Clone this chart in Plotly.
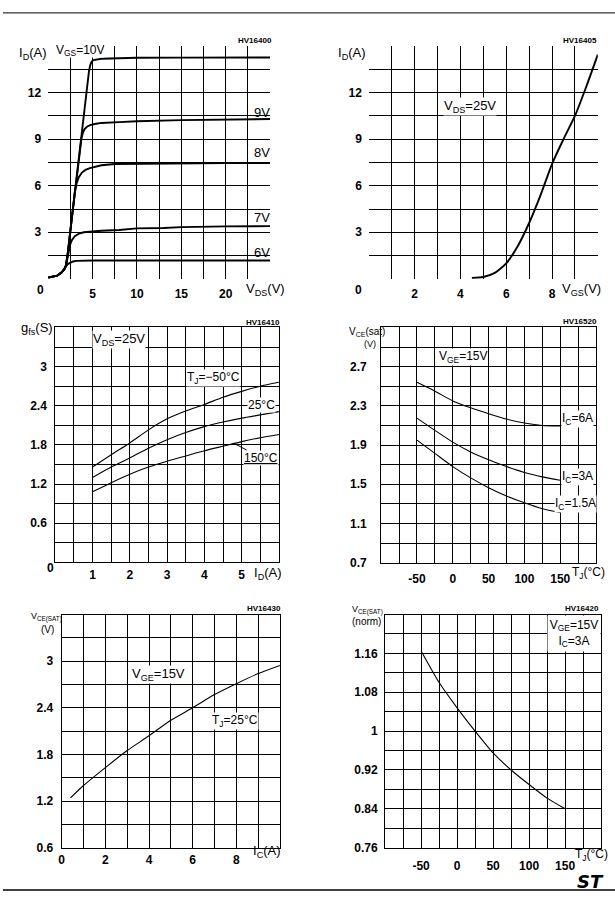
import numpy as np
import plotly.graph_objects as go

W, H = 615, 908

# ---------------- data ----------------
# Panel 1: output characteristics ID vs VDS
vds_10 = [0, 0.5, 1.0, 1.5, 1.8, 2.0, 2.2, 2.5, 3.0, 3.5, 4.0, 4.4, 4.6, 4.75, 4.9, 5.1, 5.5, 6.0, 8, 10, 15, 20, 25]
id_10 = [0.08, 0.12, 0.2, 0.4, 0.6, 0.85, 1.6, 3.1, 5.6, 8.1, 10.6, 12.6, 13.4, 13.8, 14.0, 14.1, 14.16, 14.19, 14.22, 14.25, 14.26, 14.27, 14.27]
vds_9 = [0, 0.5, 1.0, 1.5, 1.8, 2.0, 2.2, 2.5, 3.0, 3.4, 3.6, 3.75, 3.9, 4.1, 4.4, 4.8, 5.4, 6, 8, 10, 15, 20, 25]
id_9 = [0.08, 0.12, 0.2, 0.4, 0.6, 0.85, 1.6, 3.1, 5.6, 7.6, 8.5, 9.05, 9.4, 9.65, 9.82, 9.93, 10.0, 10.05, 10.1, 10.16, 10.23, 10.27, 10.3]
vds_8 = [0, 0.5, 1, 1.5, 1.8, 2.0, 2.2, 2.5, 2.7, 2.85, 3.0, 3.2, 3.45, 3.8, 4.2, 4.7, 5.3, 6, 7.5, 10, 15, 20, 25]
id_8 = [0.08, 0.12, 0.2, 0.4, 0.6, 0.85, 1.6, 3.1, 4.1, 4.95, 5.6, 6.15, 6.55, 6.85, 7.02, 7.14, 7.24, 7.32, 7.4, 7.42, 7.44, 7.46, 7.47]
vds_7 = [0, 0.5, 1, 1.5, 1.8, 2.0, 2.2, 2.35, 2.5, 2.7, 3.0, 3.5, 4, 5, 6, 8, 10, 13, 15, 20, 25]
id_7 = [0.08, 0.12, 0.2, 0.4, 0.6, 0.85, 1.5, 1.95, 2.25, 2.52, 2.75, 2.92, 3.0, 3.05, 3.1, 3.15, 3.25, 3.28, 3.33, 3.38, 3.4]
vds_6 = [0, 0.5, 1, 1.5, 1.8, 2.0, 2.2, 2.5, 2.8, 3.2, 3.6, 5, 10, 15, 20, 25]
id_6 = [0.08, 0.12, 0.2, 0.4, 0.6, 0.8, 0.95, 1.06, 1.12, 1.16, 1.17, 1.18, 1.18, 1.18, 1.18, 1.18]
p1_curve_labels = ["9V", "8V", "7V", "6V"]

# Panel 2: transfer characteristics
vgs_2 = [4.5, 5.0, 5.5, 6.0, 6.5, 7.0, 7.5, 8.0, 8.5, 9.0, 9.5, 10.0]
id_2 = [0.05, 0.12, 0.38, 1.0, 2.1, 3.6, 5.4, 7.4, 9.0, 10.5, 12.4, 14.45]

# Panel 3: transconductance
id_3 = [1, 1.5, 2, 2.5, 3, 3.5, 4, 4.5, 5, 5.5, 6]
gfs_m50 = [1.46, 1.65, 1.83, 2.03, 2.2, 2.32, 2.42, 2.53, 2.62, 2.7, 2.76]
gfs_25 = [1.30, 1.46, 1.60, 1.75, 1.88, 1.99, 2.08, 2.15, 2.21, 2.26, 2.31]
gfs_150 = [1.08, 1.22, 1.35, 1.46, 1.55, 1.63, 1.71, 1.78, 1.85, 1.91, 1.96]

# Panel 4: VCE(sat) vs Tj
tj_4 = [-50, -25, 0, 25, 50, 75, 100, 125, 150]
vce_6a = [2.54, 2.45, 2.35, 2.28, 2.22, 2.165, 2.125, 2.10, 2.095]
vce_3a = [2.175, 2.05, 1.93, 1.83, 1.75, 1.68, 1.62, 1.575, 1.54]
vce_15a = [1.95, 1.815, 1.68, 1.565, 1.465, 1.38, 1.31, 1.25, 1.21]

# Panel 5: VCE(sat) vs Ic
ic_5 = [0.4, 1, 2, 3, 4, 5, 6, 7, 8, 9, 10]
vce_5 = [1.24, 1.40, 1.63, 1.85, 2.04, 2.24, 2.40, 2.57, 2.71, 2.84, 2.945]

# Panel 6: normalized VCE(sat) vs Tj
tj_6 = [-50, -25, 0, 25, 50, 75, 100, 125, 150]
vce_norm = [1.165, 1.10, 1.048, 1.0, 0.955, 0.92, 0.89, 0.862, 0.84]

# tick labels
p1_xt = [5, 10, 15, 20]; p1_yt = [3, 6, 9, 12]
p2_xt = [2, 4, 6, 8]; p2_yt = [3, 6, 9, 12]
p3_xt = [1, 2, 3, 4, 5]; p3_yt = [0.6, 1.2, 1.8, 2.4, 3]
p3_yl = ["0.6", "1.2", "1.8", "2.4", "3"]
p4_xt = [-50, 0, 50, 100, 150]; p4_yt = [0.7, 1.1, 1.5, 1.9, 2.3, 2.7]
p4_yl = ["0.7", "1.1", "1.5", "1.9", "2.3", "2.7"]
p5_xt = [0, 2, 4, 6, 8]; p5_yt = [0.6, 1.2, 1.8, 2.4, 3]
p5_yl = ["0.6", "1.2", "1.8", "2.4", "3"]
p6_xt = [-50, 0, 50, 100, 150]; p6_yt = [0.76, 0.84, 0.92, 1.0, 1.08, 1.16]
p6_yl = ["0.76", "0.84", "0.92", "1", "1.08", "1.16"]

# ---------------- layout helpers ----------------
def fx(px):
    return px / W

def fy(py):
    return 1 - py / H

BLACK = "black"
TICKFONT = dict(family="Liberation Sans, Arial", size=12, color=BLACK, weight="bold")

def grid_vals(a, b, step):
    n = int(round((b - a) / step))
    return [round(a + i * step, 6) for i in range(n + 1)]

def axis(dom_px, horiz, rng, tickvals, ticktext, minor_vals, frame, standoff):
    if horiz:
        dom = [fx(dom_px[0]), fx(dom_px[1])]
    else:
        dom = [fy(dom_px[1]), fy(dom_px[0])]
    return dict(
        domain=dom, range=rng, tickmode="array", tickvals=tickvals,
        ticktext=ticktext if ticktext is not None else [str(v) for v in tickvals],
        showgrid=True, gridcolor=BLACK, gridwidth=1, zeroline=False,
        showline=frame, linecolor=BLACK, linewidth=1, mirror=frame,
        ticks="", tickfont=TICKFONT, ticklabelstandoff=standoff,
        minor=dict(tickmode="array", tickvals=minor_vals, showgrid=True,
                   gridcolor=BLACK, gridwidth=1, ticks=""),
        fixedrange=True,
    )

fig = go.Figure()

def line(x, y, n, w, shape="spline"):
    xa = "x" if n == 1 else f"x{n}"
    ya = "y" if n == 1 else f"y{n}"
    ln = dict(color=BLACK, width=w, shape=shape)
    if shape == "spline":
        ln["smoothing"] = 0.6
    fig.add_trace(go.Scatter(x=x, y=y, mode="lines", xaxis=xa, yaxis=ya, line=ln,
                             showlegend=False, hoverinfo="skip", cliponaxis=True))

# traces
for xs, ys in [(vds_10, id_10), (vds_9, id_9), (vds_8, id_8), (vds_7, id_7), (vds_6, id_6)]:
    line(xs, ys, 1, 1.9, "linear")
line(vgs_2, id_2, 2, 1.9)
for ys in [gfs_m50, gfs_25, gfs_150]:
    line(id_3, ys, 3, 1.1)
for ys in [vce_6a, vce_3a, vce_15a]:
    line(tj_4, ys, 4, 1.1)
line(ic_5, vce_5, 5, 1.1)
line(tj_6, vce_norm, 6, 1.1)

# panel geometry (pixels)
P1 = dict(x=(45.4, 268.4), y=(46.5, 281.0))
P2 = dict(x=(367.7, 597.7), y=(46.5, 281.0))
P3 = dict(x=(52.5, 277.3), y=(330.0, 566.7))
P4 = dict(x=(380.0, 596.0), y=(330.0, 567.0))
P5 = dict(x=(59.0, 278.3), y=(619.3, 854.3))
P6 = dict(x=(384.0, 601.0), y=(619.3, 854.3))

lay = {}
lay["xaxis"] = axis(P1["x"], True, [0, 25], p1_xt, None, grid_vals(2.5, 22.5, 2.5), False, 6)
lay["yaxis"] = axis(P1["y"], False, [0, 15], p1_yt, None, grid_vals(1.5, 13.5, 1.5), False, 6)
lay["xaxis2"] = axis(P2["x"], True, [0, 10], p2_xt, None, grid_vals(1, 9, 1), False, 6)
lay["yaxis2"] = axis(P2["y"], False, [0, 15], p2_yt, None, grid_vals(1.5, 13.5, 1.5), False, 6)
lay["xaxis3"] = axis(P3["x"], True, [0, 6], p3_xt, None, grid_vals(0, 6, 0.5), True, 1)
lay["yaxis3"] = axis(P3["y"], False, [0, 3.6], p3_yt, p3_yl, grid_vals(0, 3.6, 0.3), True, 5)
lay["xaxis4"] = axis(P4["x"], True, [-100, 200], p4_xt, None, grid_vals(-100, 200, 25), True, 5)
lay["yaxis4"] = axis(P4["y"], False, [0.7, 3.1], p4_yt, p4_yl, grid_vals(0.7, 3.1, 0.2), True, 11)
lay["xaxis5"] = axis(P5["x"], True, [0, 10], p5_xt, None, grid_vals(0, 10, 1), True, 1)
lay["yaxis5"] = axis(P5["y"], False, [0.6, 3.6], p5_yt, p5_yl, grid_vals(0.6, 3.6, 0.3), True, 5)
lay["xaxis6"] = axis(P6["x"], True, [-100, 200], p6_xt, None, grid_vals(-100, 200, 25), True, 7)
lay["yaxis6"] = axis(P6["y"], False, [0.76, 1.24], p6_yt, p6_yl, grid_vals(0.76, 1.24, 0.04), True, 4)
for i in range(1, 7):
    xk = "xaxis" if i == 1 else f"xaxis{i}"
    yk = "yaxis" if i == 1 else f"yaxis{i}"
    lay[xk]["anchor"] = "y" if i == 1 else f"y{i}"
    lay[yk]["anchor"] = "x" if i == 1 else f"x{i}"

anns = []

def ann(text, px, py, size=12, bg=None, xanchor="center", family="Liberation Sans, Arial",
        weight="normal", **kw):
    d = dict(text=text, x=fx(px), y=fy(py), xref="paper", yref="paper",
             xanchor=xanchor, yanchor="middle", showarrow=False,
             font=dict(family=family, size=size, color=BLACK, weight=weight),
             borderpad=0)
    if bg:
        d["bgcolor"] = bg
    d.update(kw)
    anns.append(d)

HV = dict(size=8, weight="bold")
# Panel 1
ann("I<sub>D</sub>(A)", 30, 54, 13)
ann("V<sub>GS</sub>=10V", 52, 51, 12, bg="white", xanchor="left", height=13)
for lbl, py in zip(p1_curve_labels, [113, 154, 219, 254]):
    ann(lbl, 260, py, 13)
ann("V<sub>DS</sub>(V)", 264, 292, 13)
ann("HV16400", 253, 41, **HV)
ann("0", 38, 292, 12, weight="bold")
# Panel 2
ann("I<sub>D</sub>(A)", 351, 54, 13)
ann("V<sub>DS</sub>=25V", 469, 107, 13, bg="white")
ann("V<sub>GS</sub>(V)", 581, 292, 13)
ann("HV16405", 580, 41, **HV)
ann("0", 357, 292, 12, weight="bold")
# Panel 3
ann("g<sub>fs</sub>(S)", 34, 331, 13)
ann("V<sub>DS</sub>=25V", 117, 342, 13, bg="white")
ann("T<sub>J</sub>=−50°C", 212, 381, 12, bg="white")
ann("25°C", 260, 408, 12, bg="white")
x150 = 4.8
y150 = float(np.interp(x150, id_3, gfs_150))
px150 = P3["x"][0] + x150 / 6 * (P3["x"][1] - P3["x"][0])
py150 = P3["y"][1] - y150 / 3.6 * (P3["y"][1] - P3["y"][0])
anns.append(dict(text="<u>150°C</u>", x=x150, y=y150, xref="x3", yref="y3",
                 showarrow=True, arrowhead=0, arrowwidth=1, arrowcolor=BLACK,
                 ax=259 - px150, ay=461 - py150, bgcolor="white", borderpad=0,
                 font=dict(family="Liberation Sans, Arial", size=12, color=BLACK)))
ann("I<sub>D</sub>(A)", 266, 578, 13)
ann("HV16410", 261, 325, **HV)
ann("0", 48, 572, 12, weight="bold")
# Panel 4
ann("V<sub>CE</sub>(sat)", 366, 335, 10)
ann("(V)", 369, 347, 9)
ann("V<sub>GE</sub>=15V", 462, 360, 12, bg="white")
ann("I<sub>C</sub>=6A", 577, 422, 12, bg="white")
ann("I<sub>C</sub>=3A", 577, 481, 12, bg="white")
ann("I<sub>C</sub>=1.5A", 575, 508, 12, bg="white")
ann("T<sub>J</sub>(°C)", 588, 577, 12)
ann("HV16520", 580, 324, **HV)
# Panel 5
ann("V<sub>CE(SAT)</sub>", 44, 622, 9)
ann("(V)", 45, 634, 10)
ann("V<sub>GE</sub>=15V", 156, 680, 13, bg="white")
ann("T<sub>J</sub>=25°C", 233, 727, 12, bg="white")
ann("I<sub>C</sub>(A)", 265, 858, 13)
ann("HV16430", 262, 613, **HV)
# Panel 6
ann("V<sub>CE(SAT)</sub>", 366, 615, 9)
ann("(norm)", 365, 626, 10)
anns.append(dict(text="V<sub>GE</sub>=15V<br>I<sub>C</sub>=3A", x=fx(573.5), y=fy(638.5),
                 xref="paper", yref="paper", xanchor="center", yanchor="middle",
                 showarrow=False, bgcolor="white", width=52, height=35, borderpad=0,
                 font=dict(family="Liberation Sans, Arial", size=12, color=BLACK)))
ann("T<sub>J</sub>(°C)", 591, 862, 12)
ann("HV16420", 582, 613, **HV)
# logo
ann("<b><i>ST</i></b>", 590, 888, 18, family="DejaVu Sans")

shapes = [
    dict(type="line", xref="paper", yref="paper", x0=0, x1=1, y0=fy(13), y1=fy(13),
         line=dict(color=BLACK, width=1)),
    dict(type="line", xref="paper", yref="paper", x0=0, x1=1, y0=fy(897), y1=fy(897),
         line=dict(color=BLACK, width=1.5)),
]

fig.update_layout(
    width=W, height=H, margin=dict(l=0, r=0, t=0, b=0, pad=0),
    paper_bgcolor="white", plot_bgcolor="white", showlegend=False,
    annotations=anns, shapes=shapes, **lay,
)

fig.write_html("out.html", config={"displayModeBar": False})
